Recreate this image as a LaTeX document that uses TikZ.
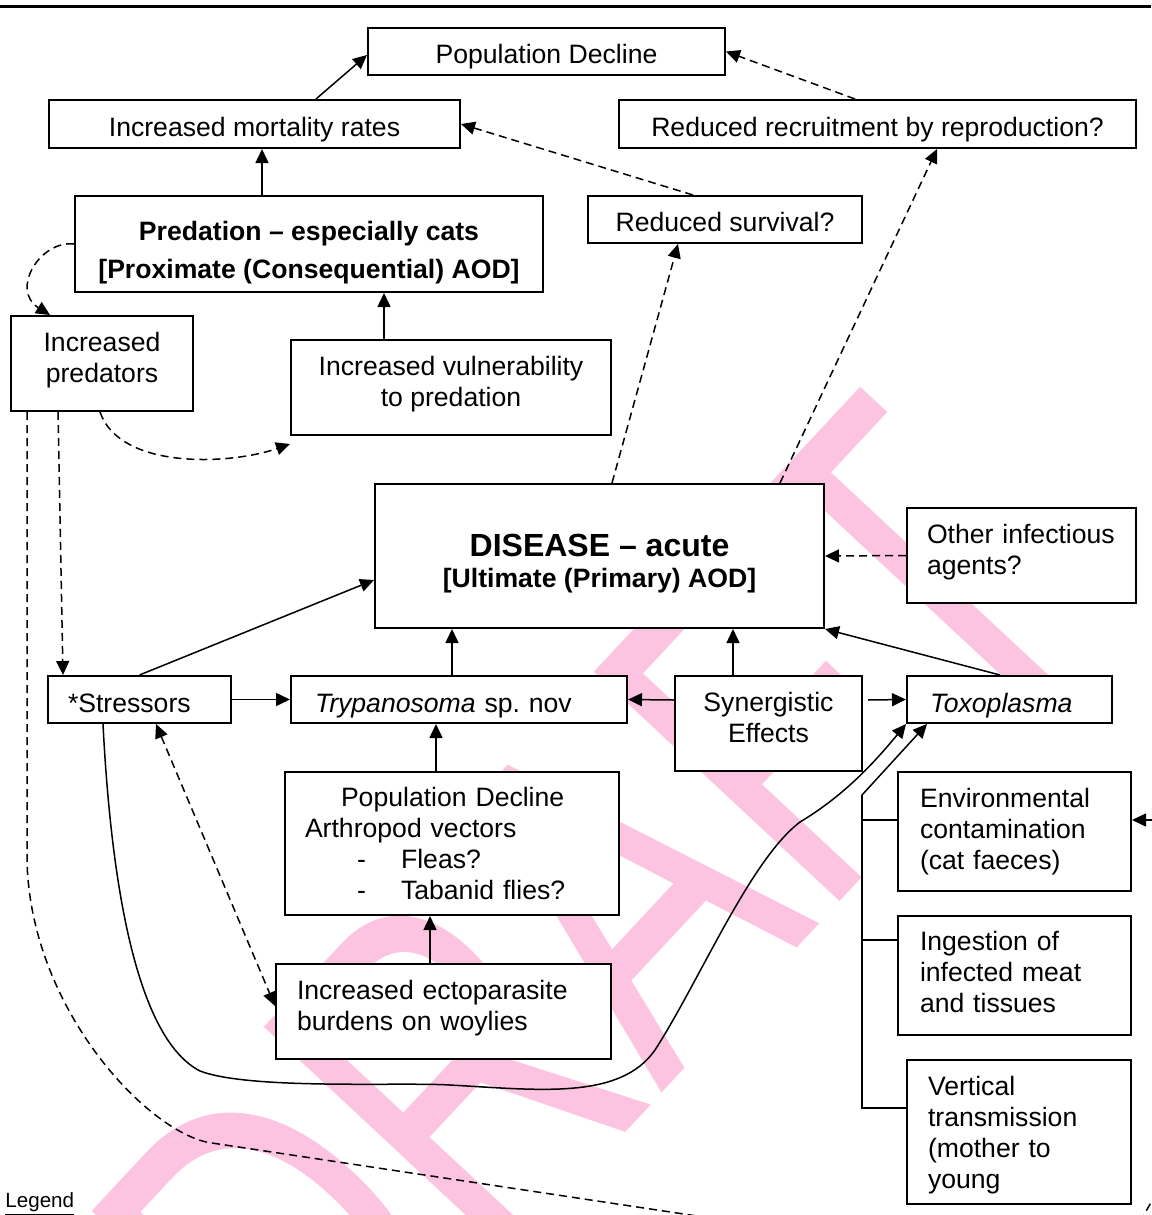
\documentclass[tikz,border=0pt]{standalone}
\usepackage{fontspec}
\setmainfont{Liberation Sans}
\usetikzlibrary{arrows.meta}
\definecolor{draftpink}{RGB}{253,196,226}

\begin{document}
\begin{tikzpicture}[x=0.5pt,y=-0.5pt]
\tikzstyle{box}=[draw=black,fill=white,line width=1pt,inner sep=0pt,font=\fontsize{13.3}{15.5}\selectfont]
\tikzstyle{cbox}=[box,align=center]
\tikzstyle{lbox}=[box,align=left]
\tikzstyle{one}=[text height=12pt,text depth=0pt]
\tikzstyle{arr}=[-{Triangle[length=7pt,width=6.5pt]},line width=0.75pt]
\tikzstyle{darr}=[arr,dash pattern=on 4pt off 2.5pt]
\tikzstyle{dboth}=[darr,{Triangle[length=7pt,width=6.5pt]}-{Triangle[length=7pt,width=6.5pt]}]
\useasboundingbox (0,0) rectangle (1151,1215);
\begin{scope}
\clip (0,0) rectangle (1151,1215);
\node [anchor=base west,rotate=47,yscale=1.4,text=draftpink,inner sep=0pt,font=\fontsize{174.5}{174.5}\selectfont] (draftmark) at (318,1462) {DRAFT};
\end{scope}
\draw [line width=1.5pt] (0,6) -- (1151,6);
\node [cbox,one,minimum width=178.5pt,minimum height=23.5pt] (popdecline) at (546.5,51.5) {Population Decline};
\node [cbox,one,minimum width=205.5pt,minimum height=24pt] (mortality) at (254.5,124) {Increased mortality rates};
\node [cbox,one,minimum width=258.5pt,minimum height=24pt] (recruit) at (877.5,124) {Reduced recruitment by reproduction?};
\node [cbox,minimum width=234pt,minimum height=48pt,font=\bfseries\fontsize{13.3}{19}\selectfont] (predation) at (309,244) {\rule{0pt}{18.7pt}Predation – especially cats\\{}[Proximate (Consequential) AOD]};
\node [cbox,one,minimum width=137pt,minimum height=23.5pt] (survival) at (725,219.5) {Reduced survival?};
\node [cbox,text depth=5.8pt,minimum width=91pt,minimum height=47.5pt] (predators) at (102,363.5) {Increased\\predators};
\node [cbox,text depth=5.8pt,minimum width=160pt,minimum height=47.5pt] (vulner) at (451,387.5) {Increased vulnerability\\to predation};
\node [cbox,minimum width=224.5pt,minimum height=72pt,font=\bfseries] (disease) at (599.5,556) {\fontsize{16}{16}\selectfont\rule{0pt}{19.2pt}DISEASE – acute\\[3.5pt]\fontsize{13.3}{16}\selectfont[Ultimate (Primary) AOD]};
\node [lbox,text width=94.5pt,inner xsep=10pt,minimum height=47.5pt] (otheragents) at (1021.5,555.5) {Other infectious\\agents?\rule[-5.8pt]{0pt}{1pt}};
\node [lbox,one,text height=12.5pt,text width=71.5pt,inner xsep=10pt,minimum height=23.5pt] (stressors) at (139.5,699.5) {*Stressors};
\node [lbox,one,text height=12.9pt,text width=144pt,inner xsep=12pt,minimum height=23.5pt] (trypano) at (459,699.5) {\textit{Trypanosoma} sp.\ nov};
\node [cbox,text depth=6.2pt,minimum width=93.5pt,minimum height=47.5pt] (synergy) at (768.5,723.5) {Synergistic\\Effects};
\node [lbox,one,text height=12.9pt,text width=79.5pt,inner xsep=11.5pt,minimum height=23.5pt] (toxo) at (1009.5,699.5) {\textit{Toxoplasma}};
\node [lbox,text width=147pt,inner xsep=10pt,minimum height=71.5pt] (vectors) at (452,843.5) {\hspace*{18pt}Population Decline\\Arthropod vectors\\\hspace*{26pt}-\hspace*{17.6pt}Fleas?\\\hspace*{26pt}-\hspace*{17.6pt}Tabanid flies?};
\node [lbox,text width=146.5pt,inner xsep=10.5pt,minimum height=47.5pt] (ectopar) at (443.5,1011.5) {Increased ectoparasite\\burdens on woylies\rule[-5.8pt]{0pt}{1pt}};
\node [lbox,text width=94.5pt,inner xsep=11pt,minimum height=59.5pt] (envcont) at (1014.5,831.5) {Environmental\\contamination\\(cat faeces)};
\node [lbox,text width=94.5pt,inner xsep=11pt,minimum height=59.5pt] (ingest) at (1014.5,975.5) {Ingestion of\\infected meat\\and tissues\rule[-3.2pt]{0pt}{1pt}};
\node [lbox,text width=91pt,inner xsep=10.5pt,minimum height=72pt] (vertical) at (1019,1132) {\rule{0pt}{12.7pt}Vertical\\transmission\\(mother to\\young};
\node [anchor=base west,inner sep=0pt,font=\fontsize{10.3}{12}\selectfont] (legend) at (5,1207) {\underline{Legend}};
\coordinate (legendend) at (790,1230);
\coordinate (rightin) at (1160,820);
\coordinate (brtop) at (862,795);
\coordinate (brbot) at (862,1108);
\coordinate (cornera) at (1140,1222);
\coordinate (cornerb) at (1158,1190);
\draw [arr] ([xshift=30.75pt]mortality.north) -- ([yshift=-1.75pt]popdecline.west);
\draw [darr] ([xshift=-11.25pt]recruit.north) -- (popdecline.east);
\draw [darr] ([xshift=-16pt]survival.north) -- (mortality.east);
\draw [arr] ([xshift=-23.5pt]predation.north) -- ([xshift=3.75pt]mortality.south);
\draw [darr] (predation.west) .. controls (40,240) and (10,290) .. ([xshift=-26pt]predators.north);
\draw [arr] ([xshift=-33.5pt]vulner.north) -- ([xshift=37.5pt]predation.south);
\draw [darr] ([xshift=-1pt]predators.south) .. controls (120,470) and (230,465) .. ([yshift=-4pt]vulner.south west);
\draw [darr] ([xshift=-22pt]predators.south) -- ([xshift=-38.25pt]stressors.north);
\draw [line width=0.75pt,dash pattern=on 4pt off 2.5pt] ([xshift=-37.5pt]predators.south) -- (27,860) .. controls (30,1010) and (150,1135) .. (212,1143) -- (legendend);
\draw [arr] (stressors.east) -- (trypano.west);
\draw [arr] (stressors.north) -- ([yshift=-12pt]disease.west);
\draw [arr] ([xshift=-3.5pt]trypano.north) -- ([xshift=-73.75pt]disease.south);
\draw [arr] ([xshift=-17.75pt]synergy.north) -- ([xshift=66.75pt]disease.south);
\draw [arr] ([yshift=11.75pt]synergy.west) -- (trypano.east);
\draw [arr] ([xshift=2.5pt,yshift=11.75pt]synergy.east) -- (toxo.west);
\draw [arr] ([xshift=-4.75pt]toxo.north) -- (disease.south east);
\draw [darr] (otheragents.west) -- (disease.east);
\draw [arr] ([xshift=-8pt]vectors.north) -- ([xshift=-11.5pt]trypano.south);
\draw [arr] ([xshift=-6.75pt]ectopar.north) -- ([xshift=-11pt]vectors.south);
\draw [dboth] ([xshift=8.25pt]stressors.south) -- ([yshift=2.75pt]ectopar.west);
\draw [darr] ([xshift=6.25pt]disease.north) -- ([xshift=-23.5pt]survival.south);
\draw [darr] ([xshift=90.25pt]disease.north) -- ([xshift=29.75pt]recruit.south);
\draw [arr] ([xshift=-18.25pt]stressors.south) .. controls (112,900) and (140,1040) .. (200,1071) .. controls (250,1090) and (400,1082) .. (450,1085) .. controls (540,1090) and (620,1100) .. (655,1050) .. controls (700,980) and (750,860) .. (800,822) .. controls (840,798) and (870,768) .. (toxo.south west);
\draw [line width=0.75pt] ([yshift=12pt]vertical.west) -- (brbot) -- (brtop);
\draw [arr] (brtop) -- ([xshift=10.5pt]toxo.south west);
\draw [line width=0.75pt] ([yshift=5.75pt]envcont.west) -- ([yshift=5.75pt]envcont.west -| brtop);
\draw [line width=0.75pt] ([yshift=17.75pt]ingest.west) -- ([yshift=17.75pt]ingest.west -| brtop);
\draw [arr] (rightin) -- ([yshift=5.75pt]envcont.east);
\draw [line width=0.75pt,dash pattern=on 4pt off 2.5pt] (cornera) -- (cornerb);
\end{tikzpicture}
\end{document}
